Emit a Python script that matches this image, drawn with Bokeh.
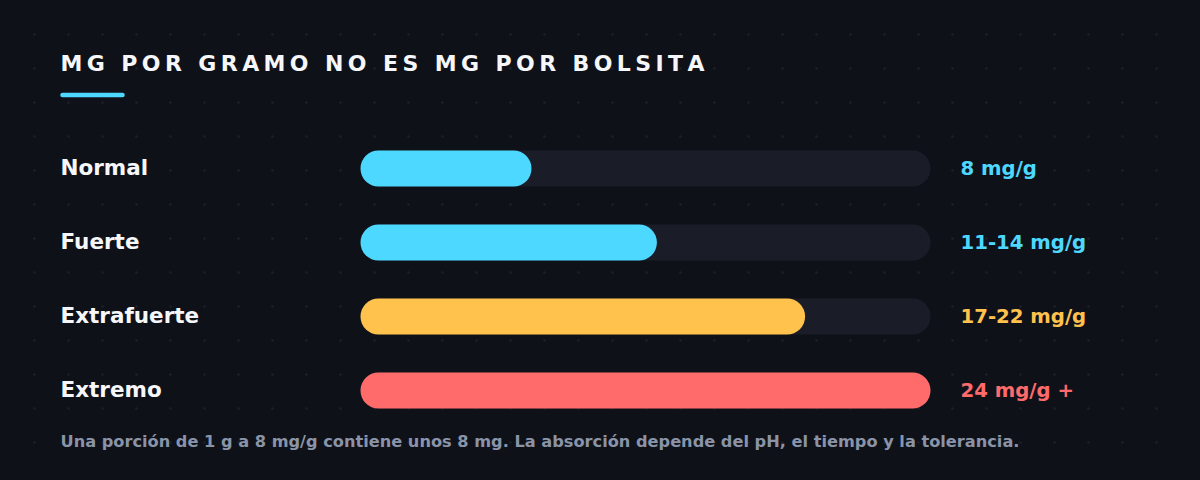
from bokeh.plotting import figure
from bokeh.models import Range1d, GlobalInlineStyleSheet
from bokeh.core.properties import value
from bokeh.embed import file_html
from bokeh.resources import INLINE

# ---------------- data ----------------
title_text = "MG POR GRAMO NO ES MG POR BOLSITA"
categories = ["Normal", "Fuerte", "Extrafuerte", "Extremo"]
strength_pct = [30, 52, 78, 100]          # bar length, % of the track
value_labels = ["8 mg/g", "11-14 mg/g", "17-22 mg/g", "24 mg/g +"]
bar_colors = ["#4dd8ff", "#4dd8ff", "#ffc24d", "#ff6b6b"]
footnote = ("Una porción de 1 g a 8 mg/g contiene unos 8 mg. "
            "La absorción depende del pH, el tiempo y la tolerancia.")
track_max = 100

# ---------------- layout constants ----------------
W, H = 1184, 464
BG = "#0f1119"
TRACK = "#1a1d28"
FONT = "DejaVu Sans"
TRACK_LEFT, TRACK_RIGHT = 360, 930      # px
ROW0, ROW_STEP = 168, 74                # px (from top)
BAR_H = 36                              # px
BASE_SHIFT = 0.41                       # em, renderer baseline correction

rows = list(range(len(categories)))

p = figure(width=W, height=H, output_backend="svg", toolbar_location=None,
           title=None, min_border=0,
           x_range=Range1d(0, W),
           y_range=Range1d((H - ROW0) / ROW_STEP, -ROW0 / ROW_STEP))
p.xaxis.visible = False
p.yaxis.visible = False
p.grid.visible = False
p.outline_line_color = None
p.background_fill_color = BG
p.border_fill_color = BG

px_per_pct = (TRACK_RIGHT - TRACK_LEFT) / track_max
p.extra_x_ranges = {"pct": Range1d(-TRACK_LEFT / px_per_pct, (W - TRACK_LEFT) / px_per_pct)}
p.extra_y_ranges = {"py": Range1d(H, 0)}

# dotted background
dot_x, dot_y = [], []
for j in range(1, 14):
    for i in range(1, 35):
        dot_x.append(34 * i)
        dot_y.append(34 * j)
p.scatter(dot_x, dot_y, y_range_name="py", marker="circle", size=2.6,
          fill_color="#1c202b", line_color=None)

# title with letter spacing
adv = {"M": 0.995, "G": 0.821, " ": 0.348, "P": 0.733, "O": 0.850, "R": 0.770,
       "A": 0.774, "N": 0.837, "E": 0.683, "S": 0.720, "B": 0.762, "L": 0.637,
       "I": 0.372, "T": 0.682}
TS = 22
LS = 0.2 * TS
tx, tch = [], []
cx = 60.0
for ch in title_text:
    if ch != " ":
        tx.append(cx)
        tch.append(ch)
    cx += adv.get(ch, 0.7) * TS + LS
p.text(x=tx, y=[72.5 - BASE_SHIFT * TS] * len(tx), text=tch, y_range_name="py",
       text_font=value(FONT), text_font_style="bold", text_font_size=f"{TS}px",
       text_color="#f5f7fa", text_baseline="alphabetic", text_align="left")

# accent underline
p.segment(x0=[62], y0=[94.5], x1=[122], y1=[94.5], y_range_name="py",
          line_color="#4dd8ff", line_width=4.5, line_cap="round")

# tracks and bars
p.hbar(y=rows, left=0, right=[track_max] * len(rows), height=BAR_H / ROW_STEP,
       x_range_name="pct", fill_color=TRACK, line_color=None, border_radius=18)
p.hbar(y=rows, left=0, right=strength_pct, height=BAR_H / ROW_STEP,
       x_range_name="pct", fill_color=bar_colors, line_color=None, border_radius=18)

# row labels
LAB = 21.5
p.text(x=[60] * len(rows), y=rows, text=categories, y_offset=8 - BASE_SHIFT * LAB,
       text_font=value(FONT), text_font_style="bold", text_font_size=f"{LAB}px",
       text_color="#f5f7fa", text_baseline="alphabetic", text_align="left")

# value labels
VAL = 19.7
p.text(x=[960] * len(rows), y=rows, text=value_labels, y_offset=8 - BASE_SHIFT * VAL,
       text_font=value(FONT), text_font_style="bold", text_font_size=f"{VAL}px",
       text_color=bar_colors, text_baseline="alphabetic", text_align="left")

# footnote
FN = 16.2
p.text(x=[60], y=[448 - BASE_SHIFT * FN], text=[footnote], y_range_name="py",
       text_font=value(FONT), text_font_style="bold", text_font_size=f"{FN}px",
       text_color="#8a94a8", text_baseline="alphabetic", text_align="left")

p.stylesheets = [GlobalInlineStyleSheet(css="html, body { background: #0f1119; }")]

open("out.html", "w").write(file_html(p, INLINE))
